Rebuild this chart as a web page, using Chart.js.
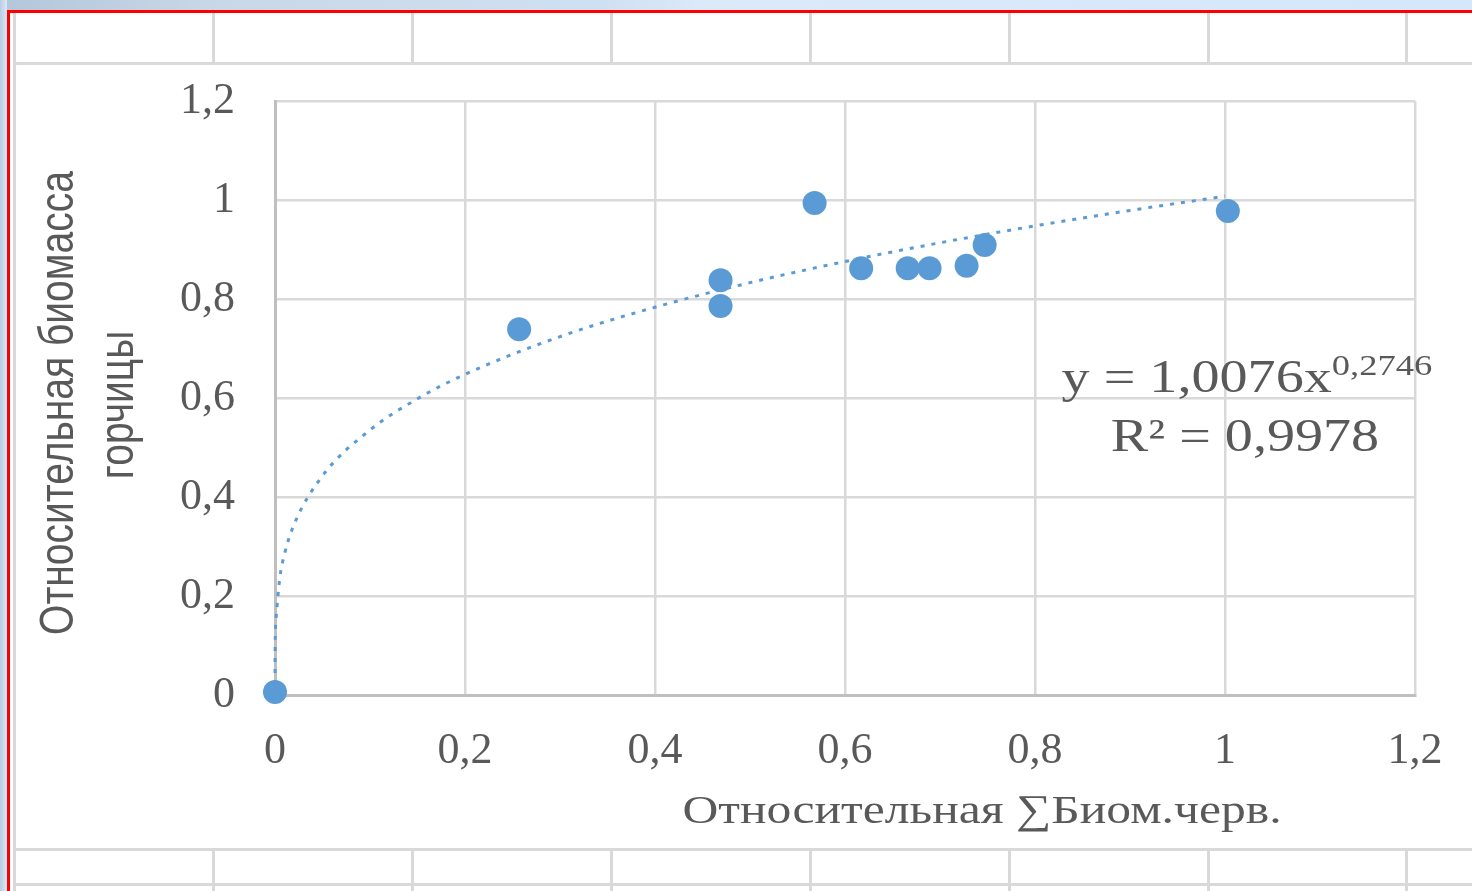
<!DOCTYPE html>
<html><head><meta charset="utf-8">
<script src="https://cdn.jsdelivr.net/npm/chart.js@4.4.1/dist/chart.umd.min.js"></script>
<style>
html,body{margin:0;padding:0;width:1472px;height:891px;overflow:hidden;background:#fff;}
.a{position:absolute;}
.g{position:absolute;background:#d9d9d9;}
</style></head><body>
<div class="a" style="left:0;top:0;width:1472px;height:10px;background:linear-gradient(to right,#b4c6da 0,#c9d8e8 220px,#cfe0f2 600px,#dbe9f9 700px,#d6e7fb 100%)"></div>
<div class="a" style="left:0;top:0;width:7px;height:891px;background:linear-gradient(to right,#b9cde4,#dce9f8)"></div>
<div class="g" style="left:13px;top:13px;width:3px;height:878px"></div>
<div class="g" style="left:13px;top:62px;width:1459px;height:3px"></div>
<div class="g" style="left:13px;top:848px;width:1459px;height:3px"></div>
<div class="g" style="left:13px;top:883px;width:1459px;height:3px"></div>
<div id="cols"></div>
<div class="a" style="left:7px;top:10px;width:1465px;height:3px;background:#ff0000"></div>
<div class="a" style="left:7px;top:10px;width:3px;height:881px;background:#ff0000"></div>
<div class="a" style="left:16px;top:65px;width:1456px;height:783px;background:#fff">
<canvas id="c" width="1456" height="783" style="display:block;width:1456px;height:783px"></canvas>
</div>
<script>
// ---- data ----
const xValues = [0, 0.257, 0.469, 0.469, 0.568, 0.617, 0.666, 0.689, 0.728, 0.747, 1.003];
const yValues = [0.006, 0.739, 0.838, 0.786, 0.994, 0.862, 0.862, 0.862, 0.867, 0.909, 0.978];
const trendX = [0, 0.0001, 0.001, 0.005, 0.01, 0.02, 0.05, 0.1, 0.15, 0.2, 0.3, 0.4, 0.5, 0.6, 0.7, 0.8, 0.9, 1.0];
const trendY = [0, 0.0803, 0.1512, 0.2352, 0.2845, 0.3442, 0.4427, 0.5354, 0.5985, 0.6477, 0.7240, 0.7834, 0.8330, 0.8757, 0.9136, 0.9477, 0.9789, 1.0076];
const xTickLabels = ['0', '0,2', '0,4', '0,6', '0,8', '1', '1,2'];
const yTickLabels = ['0', '0,2', '0,4', '0,6', '0,8', '1', '1,2'];
const xAxisTitle = 'Относительная ∑Биом.черв.';
const yAxisTitle = ['Относительная биомасса', 'горчицы'];
const eqMain = 'y = 1,0076x';
const eqSup = '0,2746';
const eqR2 = 'R² = 0,9978';

// spreadsheet column lines
(function(){
  const xs=[212,411,610,809,1008,1207,1405];
  let h='';
  xs.forEach(x=>{
    h+='<div class="g" style="left:'+x+'px;top:13px;width:3px;height:49px"></div>';
    h+='<div class="g" style="left:'+x+'px;top:848px;width:3px;height:43px"></div>';
  });
  document.getElementById('cols').innerHTML=h;
})();

const SERIF='"Liberation Serif","Times New Roman",serif';
const SANS='"Liberation Sans",Arial,sans-serif';
const TXT='#595959';

const textPlugin = {
  id:'texts',
  afterDraw(chart){
    const ctx=chart.ctx; const sx=1.22;
    ctx.save();
    ctx.fillStyle=TXT;
    // x title
    ctx.font='41px '+SERIF; ctx.textAlign='center'; ctx.textBaseline='alphabetic';
    ctx.save(); ctx.translate(966,758); ctx.scale(1.21,1); ctx.fillText(xAxisTitle,0,0); ctx.restore();
    // y title
    ctx.font='39px '+SANS; ctx.textBaseline='middle';
    ctx.save(); ctx.translate(44,338); ctx.rotate(-Math.PI/2); ctx.scale(1,1.25); ctx.fillText(yAxisTitle[0],0,0); ctx.restore();
    ctx.save(); ctx.translate(104,340); ctx.rotate(-Math.PI/2); ctx.scale(1,1.25); ctx.fillText(yAxisTitle[1],0,0); ctx.restore();
    // equation
    ctx.textAlign='left'; ctx.textBaseline='alphabetic';
    ctx.font='46px '+SERIF; const wm=ctx.measureText(eqMain).width*sx;
    ctx.font='30px '+SERIF; const ws=ctx.measureText(eqSup).width*sx;
    const x0=1231-(wm+ws)/2;
    ctx.font='46px '+SERIF;
    ctx.save(); ctx.translate(x0,327); ctx.scale(sx,1); ctx.fillText(eqMain,0,0); ctx.restore();
    ctx.font='30px '+SERIF;
    ctx.save(); ctx.translate(x0+wm,310); ctx.scale(sx,1); ctx.fillText(eqSup,0,0); ctx.restore();
    ctx.font='46px '+SERIF; ctx.textAlign='center';
    ctx.save(); ctx.translate(1229,386); ctx.scale(sx,1); ctx.fillText(eqR2,0,0); ctx.restore();
    ctx.restore();
  }
};

const tickFont={family:SERIF,size:44};
new Chart(document.getElementById('c'),{
  type:'scatter',
  data:{datasets:[
    {label:'data',data:xValues.map((x,i)=>({x:x,y:yValues[i]})),backgroundColor:'#5b9bd5',borderWidth:0,pointRadius:12,pointHoverRadius:12,order:0,clip:false},
    {label:'trend',data:trendX.map((x,i)=>({x:x,y:trendY[i]})),showLine:true,borderColor:'#5b9bd5',borderWidth:3,borderDash:[4,7],pointRadius:0,cubicInterpolationMode:'monotone',order:1,clip:false}
  ]},
  options:{
    responsive:false,animation:false,devicePixelRatio:1,
    layout:{padding:{left:0,top:36,right:57,bottom:0}},
    plugins:{legend:{display:false},tooltip:{enabled:false}},
    scales:{
      x:{type:'linear',min:0,max:1.2,afterFit(s){s.height=153;s.paddingLeft=0;s.paddingRight=0;},
        ticks:{stepSize:0.2,padding:30,color:TXT,font:tickFont,maxRotation:0,autoSkip:false,
          callback:(v)=>{const i=Math.round(v/0.2);return xTickLabels[i]??'';}},
        grid:{color:'#d9d9d9',lineWidth:2.5,drawTicks:false},border:{color:'#bfbfbf',width:3}},
      y:{type:'linear',min:0,max:1.2,afterFit(s){s.width=259;s.paddingTop=0;s.paddingBottom=0;},
        ticks:{stepSize:0.2,padding:40,color:TXT,font:tickFont,autoSkip:false,
          callback:(v)=>{const i=Math.round(v/0.2);return yTickLabels[i]??'';}},
        grid:{color:'#d9d9d9',lineWidth:2.5,drawTicks:false},border:{color:'#bfbfbf',width:3}}
    }
  },
  plugins:[textPlugin]
});
</script>
</body></html>
